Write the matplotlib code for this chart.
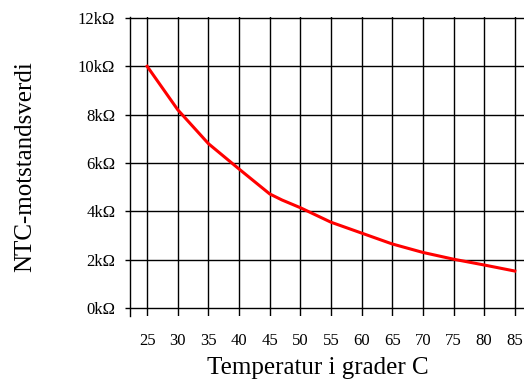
import matplotlib
matplotlib.use("Agg")
import matplotlib.pyplot as plt

temps = [25, 30, 35, 40, 45, 47, 50, 55, 60, 65, 70, 75, 80, 85]
resistance_k = [10.0, 8.2, 6.8, 5.75, 4.72, 4.47, 4.15, 3.55, 3.1, 2.65, 2.3, 2.02, 1.78, 1.53]
xticks = [25, 30, 35, 40, 45, 50, 55, 60, 65, 70, 75, 80, 85]
yticks = [0, 2, 4, 6, 8, 10, 12]
ytick_labels = ["0kΩ", "2kΩ", "4kΩ", "6kΩ", "8kΩ", "10kΩ", "12kΩ"]

plt.rcParams['font.family'] = ['Liberation Serif', 'DejaVu Serif']

fig = plt.figure(figsize=(5.24, 3.84), dpi=100)
ax = fig.add_axes([130/524, (384-316)/384, 394/524, (316-17)/384])

ax.plot(temps, resistance_k, color='#ff0000', lw=2.2, zorder=3)

ax.set_xlim(22.2, 86.5)
ax.set_ylim(-0.33, 12.04)
ax.set_xticks(xticks)
ax.set_xticklabels([str(t) for t in xticks])
ax.set_yticks(yticks)
ax.set_yticklabels(ytick_labels)
ax.grid(True, color='black', lw=1.0)
ax.tick_params(axis='x', length=0, pad=12.5, labelsize=12)
ax.tick_params(axis='y', length=3.6, width=1.0, pad=7, labelsize=12)

for s in ['top', 'right', 'bottom']:
    ax.spines[s].set_visible(False)
ax.spines['left'].set_linewidth(1.0)

ax.set_xlabel("Temperatur i grader C", fontsize=18)
ax.set_ylabel("NTC-motstandsverdi", fontsize=18)
ax.xaxis.set_label_coords(0.477, -0.137)
ax.yaxis.set_label_coords(-0.266, 0.5)
ax.yaxis.label.set_va('center')

fig.savefig("out.png", dpi=100)
